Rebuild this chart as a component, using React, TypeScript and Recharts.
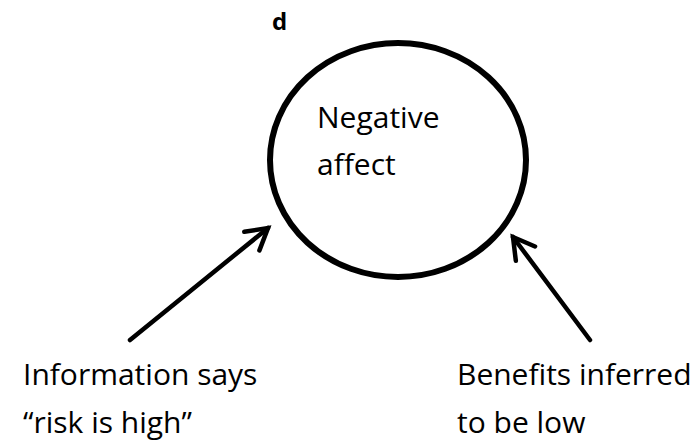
import React from 'react';
import { ComposedChart, XAxis, YAxis, Scatter, ReferenceLine } from 'recharts';

const CANVAS_W = 698;
const CANVAS_H = 441;

// Node (the ellipse) — centre and radii in chart units
const nodes = [{ name: 'Negative affect', x: 398, y: 160, rx: 128, ry: 117 }];

// Text inside the node
const nodeLines = [
  { x: 317, y: 128, text: 'Negative' },
  { x: 317, y: 175, text: 'affect' },
];

// Source labels under the arrows
const sourceLabels = [
  { x: 23, y: 385, text: 'Information says' },
  { x: 23, y: 433, text: '\u201Crisk is high\u201D' },
  { x: 457, y: 385, text: 'Benefits inferred' },
  { x: 457, y: 433, text: 'to be low' },
];

// Panel letter
const panelLabel = [{ x: 272, y: 30, text: 'd' }];

// Arrows: from label to node
const arrows = [
  { from: { x: 130, y: 340 }, to: { x: 268, y: 228 } },
  { from: { x: 590, y: 340 }, to: { x: 513, y: 237 } },
];

const FONT = '"Open Sans", "Noto Sans", sans-serif';

const EllipseShape = (props: any) => {
  const { cx, cy, payload } = props;
  return (
    <ellipse cx={cx} cy={cy} rx={payload.rx} ry={payload.ry} fill="none" stroke="#000" strokeWidth={6} />
  );
};

const makeTextShape = (size: number, weight: number) => (props: any) => {
  const { cx, cy, payload } = props;
  return (
    <text x={cx} y={cy} fontFamily={FONT} fontSize={size} fontWeight={weight} fill="#000" textAnchor="start">
      {payload.text}
    </text>
  );
};

const ArrowShape = (props: any) => {
  const { x1, y1, x2, y2 } = props;
  const ang = Math.atan2(y1 - y2, x1 - x2);
  const len = 24;
  const spread = (30 * Math.PI) / 180;
  const ax = x2 + len * Math.cos(ang + spread);
  const ay = y2 + len * Math.sin(ang + spread);
  const bx = x2 + len * Math.cos(ang - spread);
  const by = y2 + len * Math.sin(ang - spread);
  return (
    <g>
      <line x1={x1} y1={y1} x2={x2} y2={y2} stroke="#000" strokeWidth={4.5} strokeLinecap="round" />
      <polyline
        points={`${ax},${ay} ${x2},${y2} ${bx},${by}`}
        fill="none"
        stroke="#000"
        strokeWidth={4.5}
        strokeLinecap="round"
        strokeLinejoin="miter"
      />
    </g>
  );
};

export default function App() {
  return (
    <div style={{ position: 'absolute', left: 0, top: 0, width: CANVAS_W, height: CANVAS_H, background: '#fff' }}>
      <ComposedChart width={CANVAS_W} height={CANVAS_H} margin={{ top: 0, right: 0, bottom: 0, left: 0 }}>
        <XAxis type="number" dataKey="x" domain={[0, CANVAS_W]} hide allowDataOverflow />
        <YAxis type="number" dataKey="y" domain={[0, CANVAS_H]} reversed hide allowDataOverflow />
        <Scatter data={nodes} shape={EllipseShape} isAnimationActive={false} />
        {arrows.map((a, i) => (
          <ReferenceLine
            key={i}
            segment={[a.from, a.to]}
            shape={ArrowShape}
            ifOverflow="visible"
          />
        ))}
        <Scatter data={nodeLines} shape={makeTextShape(30, 400)} isAnimationActive={false} />
        <Scatter data={sourceLabels} shape={makeTextShape(30, 400)} isAnimationActive={false} />
        <Scatter data={panelLabel} shape={makeTextShape(24, 700)} isAnimationActive={false} />
      </ComposedChart>
    </div>
  );
}
